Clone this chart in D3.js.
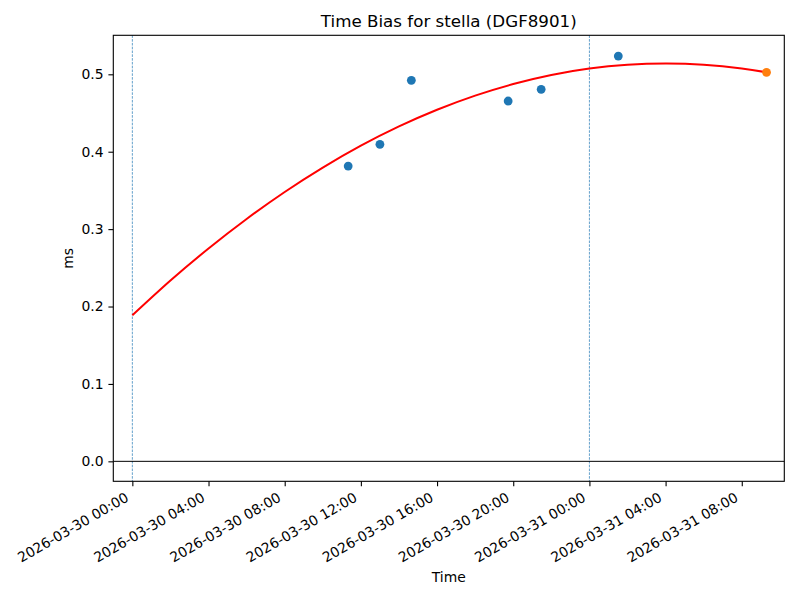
<!DOCTYPE html>
<html>
<head>
<meta charset="utf-8">
<script src="https://cdn.jsdelivr.net/npm/d3@7"></script>
<style>
  body { margin: 0; background: #fff; }
  text { font-family: "DejaVu Sans", sans-serif; fill: #000; }
</style>
</head>
<body>
<svg id="chart" width="800" height="600"></svg>
<script>
// ---- Data ----
const titleText = "Time Bias for stella (DGF8901)";
const xLabel = "Time";
const yLabel = "ms";

const pointTimes = ["2026-03-30 11:20", "2026-03-30 13:00", "2026-03-30 14:39",
                    "2026-03-30 19:44", "2026-03-30 21:28", "2026-03-31 01:31"];
const pointValues = [0.3815, 0.4096, 0.4922, 0.4655, 0.4806, 0.5236];

const latestTimes = ["2026-03-31 09:18"];
const latestValues = [0.5026];

const fitTimes = ["2026-03-30 00:00", "2026-03-30 02:00", "2026-03-30 04:00", "2026-03-30 06:00",
                  "2026-03-30 08:00", "2026-03-30 10:00", "2026-03-30 12:00", "2026-03-30 14:00",
                  "2026-03-30 16:00", "2026-03-30 18:00", "2026-03-30 20:00", "2026-03-30 22:00",
                  "2026-03-31 00:00", "2026-03-31 02:00", "2026-03-31 04:00", "2026-03-31 06:00",
                  "2026-03-31 08:00", "2026-03-31 09:18"];
const fitValues = [0.1886, 0.2335, 0.2750, 0.3131, 0.3480, 0.3795, 0.4078, 0.4327,
                   0.4542, 0.4725, 0.4874, 0.4991, 0.5074, 0.5123, 0.5140, 0.5123,
                   0.5074, 0.5026];

const dayLines = ["2026-03-30 00:00", "2026-03-31 00:00"];

const xTickTimes = ["2026-03-30 00:00", "2026-03-30 04:00", "2026-03-30 08:00", "2026-03-30 12:00",
                    "2026-03-30 16:00", "2026-03-30 20:00", "2026-03-31 00:00", "2026-03-31 04:00",
                    "2026-03-31 08:00"];
const yTicks = [0.0, 0.1, 0.2, 0.3, 0.4, 0.5];

const xDomain = ["2026-03-29 23:00", "2026-03-31 10:14"];
const yDomain = [-0.0258, 0.5504];

// ---- Layout ----
const parse = d3.utcParse("%Y-%m-%d %H:%M");
const fmt = d3.utcFormat("%Y-%m-%d %H:%M");
const margin = { left: 113.3, top: 35.3, right: 800 - 784.3, bottom: 600 - 481.3 };
const W = 800 - margin.left - margin.right;
const H = 600 - margin.top - margin.bottom;

const svg = d3.select("#chart");
const g = svg.append("g").attr("transform", `translate(${margin.left},${margin.top})`);

const x = d3.scaleUtc().domain(xDomain.map(parse)).range([0, W]);
const y = d3.scaleLinear().domain(yDomain).range([H, 0]);

// Vertical day lines
g.selectAll("line.day").data(dayLines).join("line")
  .attr("class", "day")
  .attr("x1", d => x(parse(d))).attr("x2", d => x(parse(d)))
  .attr("y1", 0).attr("y2", H)
  .attr("stroke", "#1f77b4").attr("stroke-width", 0.7)
  .attr("stroke-dasharray", "2.6,1.2");

// Zero line
g.append("line")
  .attr("x1", 0).attr("x2", W)
  .attr("y1", y(0)).attr("y2", y(0))
  .attr("stroke", "#000").attr("stroke-width", 1);

// Fit curve
const fitData = fitTimes.map((t, i) => ({ t: parse(t), v: fitValues[i] }));
g.append("path")
  .datum(fitData)
  .attr("fill", "none")
  .attr("stroke", "red")
  .attr("stroke-width", 2)
  .attr("d", d3.line().x(d => x(d.t)).y(d => y(d.v)).curve(d3.curveNatural));

// Points
const pts = pointTimes.map((t, i) => ({ t: parse(t), v: pointValues[i] }));
g.selectAll("circle.pt").data(pts).join("circle")
  .attr("class", "pt")
  .attr("cx", d => x(d.t)).attr("cy", d => y(d.v))
  .attr("r", 4.4).attr("fill", "#1f77b4");

const latest = latestTimes.map((t, i) => ({ t: parse(t), v: latestValues[i] }));
g.selectAll("circle.latest").data(latest).join("circle")
  .attr("class", "latest")
  .attr("cx", d => x(d.t)).attr("cy", d => y(d.v))
  .attr("r", 4.4).attr("fill", "#ff7f0e");

// Frame
g.append("rect").attr("x", 0).attr("y", 0).attr("width", W).attr("height", H)
  .attr("fill", "none").attr("stroke", "#000").attr("stroke-width", 1.1);

// X axis
const xAxis = d3.axisBottom(x).tickValues(xTickTimes.map(parse)).tickFormat(fmt)
  .tickSize(4.9).tickPadding(0);
const xg = g.append("g").attr("transform", `translate(0,${H})`).call(xAxis);
xg.select(".domain").remove();
xg.selectAll(".tick line").attr("stroke", "#000").attr("stroke-width", 1.1);
xg.selectAll(".tick text")
  .attr("font-size", "13.9px")
  .attr("font-family", "DejaVu Sans")
  .attr("text-anchor", "end")
  .attr("y", 0)
  .attr("transform", "translate(-8.5,9.8) rotate(-30)")
  .attr("dy", "0.76em");

// Y axis
const yAxis = d3.axisLeft(y).tickValues(yTicks).tickFormat(d3.format(".1f"))
  .tickSize(4.9).tickPadding(4.9);
const yg = g.append("g").call(yAxis);
yg.select(".domain").remove();
yg.selectAll(".tick line").attr("stroke", "#000").attr("stroke-width", 1.1);
yg.selectAll(".tick text").attr("font-size", "13.9px").attr("font-family", "DejaVu Sans");

// Title and labels
svg.append("text")
  .attr("x", margin.left + W / 2).attr("y", margin.top - 8)
  .attr("text-anchor", "middle").attr("font-size", "16.7px")
  .text(titleText);

svg.append("text")
  .attr("x", margin.left + W / 2).attr("y", 582)
  .attr("text-anchor", "middle").attr("font-size", "13.9px")
  .text(xLabel);

svg.append("text")
  .attr("transform", `translate(73,${margin.top + H / 2}) rotate(-90)`)
  .attr("text-anchor", "middle").attr("font-size", "13.9px")
  .text(yLabel);
</script>
</body>
</html>
